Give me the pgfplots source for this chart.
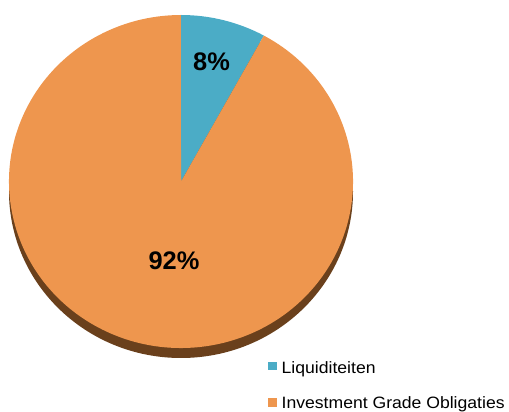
\documentclass[border=0pt]{standalone}
\usepackage{fontspec}
\setmainfont{Liberation Sans}
\newfontfamily\legfont[FakeStretch=1.07]{Liberation Sans}
\usepackage{pgfplots}
\usepackage{pgfplotstable}
\pgfplotsset{compat=1.18}
\definecolor{liqblue}{HTML}{4BACC6}
\definecolor{oblorange}{HTML}{EE964E}
\definecolor{pieside}{HTML}{6A401C}
\pgfplotstableread[col sep=comma]{
label,value
Liquiditeiten,8
Investment Grade Obligaties,92
}\piedata
\pgfplotstablegetelem{0}{value}\of\piedata \let\va\pgfplotsretval
\pgfplotstablegetelem{1}{value}\of\piedata \let\vb\pgfplotsretval
\pgfmathsetmacro\tot{\va+\vb}
\pgfmathsetmacro\aend{90-360*(\va/\tot)}
\pgfmathsetmacro\bend{\aend-360*(\vb/\tot)}
\begin{document}
\begin{tikzpicture}
\begin{axis}[
  hide axis, scale only axis, width=509bp, height=412bp,
  xmin=0, xmax=509, ymin=0, ymax=412, enlargelimits=false, clip=false,
]
\coordinate (SW) at (axis cs:0,0);
\coordinate (NE) at (axis cs:509,412);
\fill[pieside] (axis cs:181,220.5) ellipse [x radius=172bp, y radius=166.5bp];
\fill[liqblue] (axis cs:181,230.5) -- +(90:172bp and 166.5bp)
  arc[start angle=90, end angle=\aend, x radius=172bp, y radius=166.5bp] -- cycle;
\fill[oblorange] (axis cs:181,230.5) -- +(\aend:172bp and 166.5bp)
  arc[start angle=\aend, end angle=\bend, x radius=172bp, y radius=166.5bp] -- cycle;
\node[font=\fontsize{25.5}{29}\selectfont\bfseries] at (axis cs:211.5,350) {8\%};
\node[font=\fontsize{25.5}{29}\selectfont\bfseries] at (axis cs:174,151.5) {92\%};
% legend
\fill[liqblue] (axis cs:268,42) rectangle (axis cs:276.5,50.3);
\fill[oblorange] (axis cs:268,5.3) rectangle (axis cs:276.5,13.5);
\node[anchor=base west, inner sep=0pt, font=\legfont\fontsize{16.5}{20}\selectfont]
  at (axis cs:281.5,38.7) {Liquiditeiten};
\node[anchor=base west, inner sep=0pt, font=\legfont\fontsize{16.5}{20}\selectfont]
  at (axis cs:281.5,3.7) {Investment Grade Obligaties};
\end{axis}
\pgfresetboundingbox
\path[use as bounding box] (SW) rectangle (NE);
\end{tikzpicture}
\end{document}
